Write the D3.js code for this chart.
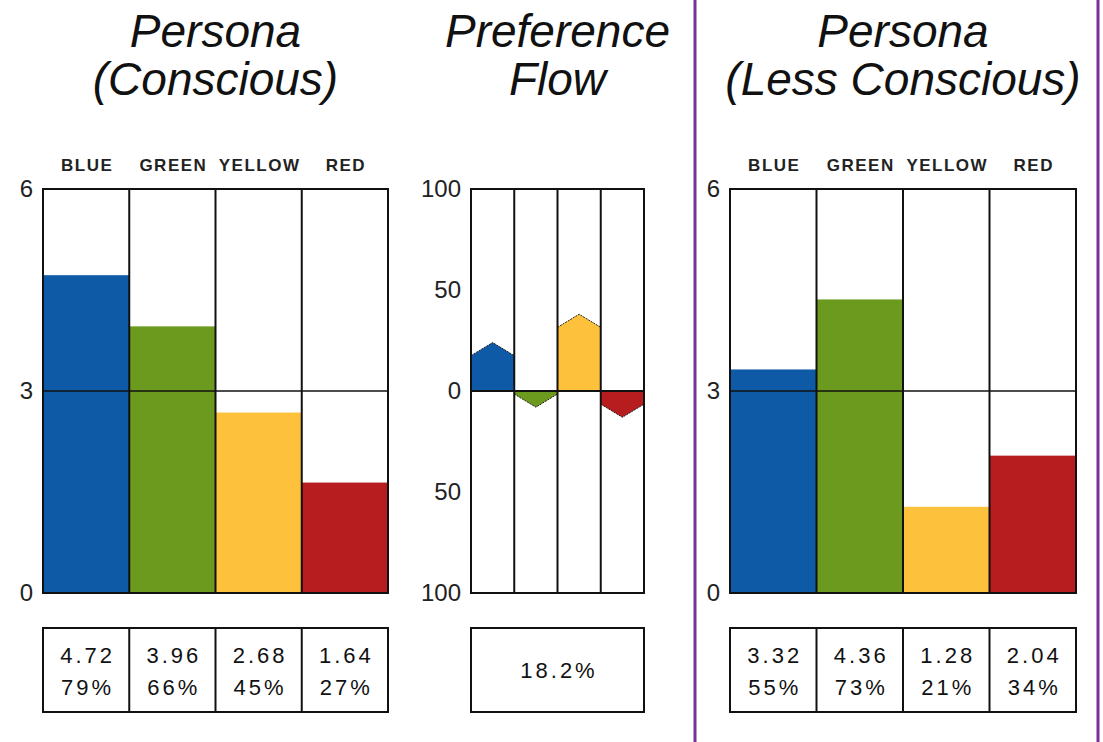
<!DOCTYPE html>
<html>
<head>
<meta charset="utf-8">
<script src="https://cdn.jsdelivr.net/npm/d3@7"></script>
<style>
  html, body { margin: 0; padding: 0; background: #fff; }
  svg { display: block; }
  .title { font-family: "Liberation Sans", Arial, sans-serif; font-style: italic; font-size: 46px; fill: #111; }
  .cat { font-family: "Liberation Sans", Arial, sans-serif; font-weight: bold; font-size: 17px; letter-spacing: 1.5px; fill: #222; }
  .tick text { font-family: "Liberation Sans", Arial, sans-serif; font-size: 24px; fill: #222; }
  .cell { font-family: "Liberation Sans", Arial, sans-serif; font-size: 22px; letter-spacing: 3px; fill: #111; }
</style>
</head>
<body>
<svg id="chart" width="1103" height="742"></svg>
<script>
// Colour preference categories
const categories = ["BLUE", "GREEN", "YELLOW", "RED"];
const colors = ["#0e5aa7", "#6c9a1e", "#fdc13c", "#b71d1e"];

// Persona scores (0–6 scale) and their percentage of the maximum
const consciousScores = [4.72, 3.96, 2.68, 1.64];
const consciousPercents = ["79%", "66%", "45%", "27%"];
const lessConsciousScores = [3.32, 4.36, 1.28, 2.04];
const lessConsciousPercents = ["55%", "73%", "21%", "34%"];

// Preference flow per colour (signed, arrow tip value) and total flow
const flowValues = [24, -8, 38, -13];
const flowTotal = "18.2%";

// Axis tick values
const personaTicks = [0, 3, 6];
const flowTicks = [-100, -50, 0, 50, 100];

const svg = d3.select("#chart");
const plotTop = 189, plotBottom = 593;
const tableTop = 628, tableBottom = 712;
const lineW = 2;

function title(cx, lines) {
  const t = svg.append("text").attr("class", "title").attr("text-anchor", "middle");
  lines.forEach((l, i) => {
    t.append("tspan").attr("x", cx).attr("y", 47 + i * 48).text(l);
  });
}

function axisLabels(g, y, ticks, fmt) {
  const ax = d3.axisLeft(y).tickValues(ticks).tickSize(0).tickPadding(10).tickFormat(fmt);
  g.call(ax);
  g.select(".domain").remove();
  g.attr("font-family", null).attr("font-size", null);
}

function personaPanel(x0, x1, scores, percents, titleLines) {
  const x = d3.scaleBand().domain(categories).range([x0, x1]).padding(0);
  const y = d3.scaleLinear().domain([0, 6]).range([plotBottom, plotTop]);
  const g = svg.append("g");

  title((x0 + x1) / 2, titleLines);

  // category headers
  g.selectAll("text.cat").data(categories).join("text")
    .attr("class", "cat")
    .attr("text-anchor", "middle")
    .attr("x", d => x(d) + x.bandwidth() / 2 + 1)
    .attr("y", 171)
    .text(d => d);

  // bars
  g.selectAll("rect.bar").data(scores).join("rect")
    .attr("class", "bar")
    .attr("x", (d, i) => x(categories[i]))
    .attr("width", x.bandwidth())
    .attr("y", d => y(d))
    .attr("height", d => y(0) - y(d))
    .attr("fill", (d, i) => colors[i]);

  // midline at 3
  g.append("line")
    .attr("x1", x0).attr("x2", x1)
    .attr("y1", y(3)).attr("y2", y(3))
    .attr("stroke", "#111").attr("stroke-width", 1.6);

  // column dividers
  g.selectAll("line.div").data(categories.slice(1)).join("line")
    .attr("class", "div")
    .attr("x1", d => x(d)).attr("x2", d => x(d))
    .attr("y1", plotTop).attr("y2", plotBottom)
    .attr("stroke", "#111").attr("stroke-width", lineW);

  // frame
  g.append("rect")
    .attr("x", x0).attr("y", plotTop)
    .attr("width", x1 - x0).attr("height", plotBottom - plotTop)
    .attr("fill", "none").attr("stroke", "#111").attr("stroke-width", lineW);

  // tick labels
  axisLabels(svg.append("g").attr("transform", `translate(${x0},0)`), y, personaTicks, d3.format("d"));

  // value table
  const tg = svg.append("g");
  tg.append("rect")
    .attr("x", x0).attr("y", tableTop)
    .attr("width", x1 - x0).attr("height", tableBottom - tableTop)
    .attr("fill", "none").attr("stroke", "#111").attr("stroke-width", lineW);
  tg.selectAll("line.div").data(categories.slice(1)).join("line")
    .attr("class", "div")
    .attr("x1", d => x(d)).attr("x2", d => x(d))
    .attr("y1", tableTop).attr("y2", tableBottom)
    .attr("stroke", "#111").attr("stroke-width", lineW);
  tg.selectAll("text.val").data(scores).join("text")
    .attr("class", "cell val").attr("text-anchor", "middle")
    .attr("x", (d, i) => x(categories[i]) + x.bandwidth() / 2 + 1.5)
    .attr("y", 663)
    .text(d => d3.format(".2f")(d));
  tg.selectAll("text.pct").data(percents).join("text")
    .attr("class", "cell pct").attr("text-anchor", "middle")
    .attr("x", (d, i) => x(categories[i]) + x.bandwidth() / 2 + 1.5)
    .attr("y", 695)
    .text(d => d);
}

function flowPanel(x0, x1) {
  const x = d3.scaleBand().domain(categories).range([x0, x1]).padding(0);
  const y = d3.scaleLinear().domain([-100, 100]).range([plotBottom, plotTop]);
  const tip = 6.5; // arrow tip depth in axis units
  const g = svg.append("g");

  title((x0 + x1) / 2, ["Preference", "Flow"]);

  // arrow-capped flow bars
  g.selectAll("path.flow").data(flowValues).join("path")
    .attr("class", "flow")
    .attr("d", (v, i) => {
      const a = x(categories[i]), b = a + x.bandwidth(), m = (a + b) / 2;
      const edge = v - Math.sign(v) * tip;
      return `M${a},${y(0)}L${a},${y(edge)}L${m},${y(v)}L${b},${y(edge)}L${b},${y(0)}Z`;
    })
    .attr("fill", (v, i) => colors[i]);
  g.selectAll("path.tip").data(flowValues).join("path")
    .attr("class", "tip")
    .attr("d", (v, i) => {
      const a = x(categories[i]), b = a + x.bandwidth(), m = (a + b) / 2;
      const edge = v - Math.sign(v) * tip;
      return `M${a},${y(edge)}L${m},${y(v)}L${b},${y(edge)}`;
    })
    .attr("fill", "none").attr("stroke", "#222").attr("stroke-width", 1)
    .attr("stroke-dasharray", "2,1");

  // zero line
  g.append("line")
    .attr("x1", x0).attr("x2", x1)
    .attr("y1", y(0)).attr("y2", y(0))
    .attr("stroke", "#111").attr("stroke-width", lineW);

  g.selectAll("line.div").data(categories.slice(1)).join("line")
    .attr("class", "div")
    .attr("x1", d => x(d)).attr("x2", d => x(d))
    .attr("y1", plotTop).attr("y2", plotBottom)
    .attr("stroke", "#111").attr("stroke-width", lineW);

  g.append("rect")
    .attr("x", x0).attr("y", plotTop)
    .attr("width", x1 - x0).attr("height", plotBottom - plotTop)
    .attr("fill", "none").attr("stroke", "#111").attr("stroke-width", lineW);

  axisLabels(svg.append("g").attr("transform", `translate(${x0},0)`), y, flowTicks, d => Math.abs(d));

  // total flow box
  const tg = svg.append("g");
  tg.append("rect")
    .attr("x", x0).attr("y", tableTop)
    .attr("width", x1 - x0).attr("height", tableBottom - tableTop)
    .attr("fill", "none").attr("stroke", "#111").attr("stroke-width", lineW);
  tg.append("text").attr("class", "cell").attr("text-anchor", "middle")
    .attr("x", (x0 + x1) / 2 + 1.5).attr("y", 678)
    .text(flowTotal);
}

personaPanel(43, 388, consciousScores, consciousPercents, ["Persona", "(Conscious)"]);
flowPanel(471, 644);
personaPanel(730, 1076, lessConsciousScores, lessConsciousPercents, ["Persona", "(Less Conscious)"]);

// frame lines around the less-conscious panel
svg.selectAll("line.frame").data([695, 1098]).join("line")
  .attr("class", "frame")
  .attr("x1", d => d).attr("x2", d => d)
  .attr("y1", 0).attr("y2", 742)
  .attr("stroke", "#7a2f97").attr("stroke-width", 3);
</script>
</body>
</html>
